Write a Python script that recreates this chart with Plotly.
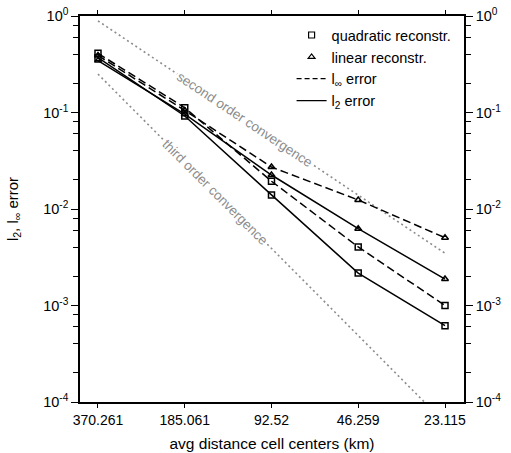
import numpy as np
import plotly.graph_objects as go

# ---- data ----
distance_km = [370.261, 185.061, 92.52, 46.259, 23.115]
tick_labels_x = ["370.261", "185.061", "92.52", "46.259", "23.115"]

quad_linf = [0.41, 0.112, 0.0194, 0.00404, 0.00100]
quad_l2 = [0.37, 0.092, 0.0140, 0.00217, 0.000618]
lin_linf = [0.39, 0.105, 0.0272, 0.0124, 0.00504]
lin_l2 = [0.345, 0.096, 0.0225, 0.00625, 0.00188]

second_order_x = [370.261, 23.115]
second_order_y = [0.89, 0.00348]
third_order_x = [370.261, 23.115]
third_order_y = [0.25, 0.000061]

y_tick_vals = [1e-4, 1e-3, 1e-2, 1e-1, 1]
y_tick_text = ["10<sup>-4</sup>", "10<sup>-3</sup>", "10<sup>-2</sup>", "10<sup>-1</sup>", "10<sup>0</sup>"]
y_minor_vals = [m * 10.0 ** e for e in range(-4, 0) for m in (2, 4, 6, 8)]

FONT = "Liberation Sans, Arial, Helvetica, sans-serif"
GRAY = "#8c8c8c"
DASH = "8px,4px"

fig = go.Figure()

# reference convergence lines
fig.add_trace(go.Scatter(x=second_order_x, y=second_order_y, mode="lines",
                         line=dict(color=GRAY, width=1.6, dash="2px,3px"),
                         showlegend=False, hoverinfo="skip"))
fig.add_trace(go.Scatter(x=third_order_x, y=third_order_y, mode="lines",
                         line=dict(color=GRAY, width=1.6, dash="2px,3px"),
                         showlegend=False, hoverinfo="skip"))

def series(y, sym, dash):
    fig.add_trace(go.Scatter(
        x=distance_km, y=y, mode="lines+markers",
        line=dict(color="black", width=1.5, dash=dash),
        marker=dict(symbol=sym, size=6, color="black", line=dict(width=1.5, color="black")),
        showlegend=False))

series(quad_linf, "square-open", DASH)
series(quad_l2, "square-open", "solid")
series(lin_linf, "triangle-up-open", DASH)
series(lin_l2, "triangle-up-open", "solid")

# legend-only entries
fig.add_trace(go.Scatter(x=[None], y=[None], mode="markers", name="quadratic reconstr.",
                         marker=dict(symbol="square-open", size=6, color="black", line=dict(width=1.2))))
fig.add_trace(go.Scatter(x=[None], y=[None], mode="markers", name="linear reconstr.",
                         marker=dict(symbol="triangle-up-open", size=6, color="black", line=dict(width=1.2))))
fig.add_trace(go.Scatter(x=[None], y=[None], mode="lines", name="l<sub>∞</sub> error",
                         line=dict(color="black", width=1.2, dash="5px,3px")))
fig.add_trace(go.Scatter(x=[None], y=[None], mode="lines", name="l<sub>2</sub> error",
                         line=dict(color="black", width=1.2)))

# invisible trace for right axis
fig.add_trace(go.Scatter(x=[distance_km[0]], y=[0.1], yaxis="y2", mode="markers",
                         marker=dict(opacity=0), showlegend=False, hoverinfo="skip"))

# labels along the reference lines
def along(xs, ys, t):
    lx = np.log10(xs[0]) + t * (np.log10(xs[1]) - np.log10(xs[0]))
    ly = np.log10(ys[0]) + t * (np.log10(ys[1]) - np.log10(ys[0]))
    return lx, ly

ax2, ay2 = along(second_order_x, second_order_y, 0.4225)
ax3, ay3 = along(third_order_x, third_order_y, 0.3385)
fig.add_annotation(x=ax2, y=ay2, xref="x", yref="y", text="second order convergence",
                   showarrow=False, textangle=33.8, bgcolor="white", borderpad=1,
                   font=dict(family=FONT, size=13.5, color=GRAY))
fig.add_annotation(x=ax3, y=ay3, xref="x", yref="y", text="third order convergence",
                   showarrow=False, textangle=45, bgcolor="white", borderpad=1,
                   font=dict(family=FONT, size=13.5, color=GRAY))

x_lo = np.log10(23.115) - 0.219 * np.log10(2)
x_hi = np.log10(370.261) + 0.2075 * np.log10(2)

yaxis_common = dict(
    type="log", range=[-4, 0], tickmode="array", tickvals=y_tick_vals, ticktext=y_tick_text,
    ticks="outside", ticklen=7, tickwidth=1.3, tickcolor="black", automargin=False,
    ticklabeloverflow="allow",
    showline=True, linecolor="black", linewidth=1.5, showgrid=False, zeroline=False,
    tickfont=dict(family=FONT, size=14.5, color="black"),
    minor=dict(tickmode="array", tickvals=y_minor_vals, ticks="outside", ticklen=5,
               tickwidth=1.2, tickcolor="black", showgrid=False),
)

fig.update_layout(
    width=511, height=453,
    margin=dict(l=80, r=47, t=16, b=51, autoexpand=False),
    paper_bgcolor="white", plot_bgcolor="white",
    font=dict(family=FONT, color="black"),
    xaxis=dict(type="log", range=[x_hi, x_lo], tickmode="array", tickvals=distance_km,
               ticktext=tick_labels_x, ticks="outside", ticklen=4, tickwidth=1.3,
               tickcolor="black", showline=True, linecolor="black", linewidth=1.5,
               mirror="ticks", showgrid=False, zeroline=False, automargin=False,
               tickfont=dict(family=FONT, size=14, color="black"),
               title=dict(text="avg distance cell centers (km)", standoff=12,
                          font=dict(family=FONT, size=15.5, color="black"))),
    yaxis=dict(**yaxis_common,
               title=dict(text="l<sub>2</sub>, l<sub>∞</sub> error", standoff=21,
                          font=dict(family=FONT, size=15, color="black"))),
    yaxis2=dict(**yaxis_common, overlaying="y", side="right"),
    legend=dict(x=0.551, y=0.992, xanchor="left", yanchor="top", bgcolor="rgba(0,0,0,0)",
                font=dict(family=FONT, size=14.5, color="black"), tracegroupgap=0,
                itemwidth=30),
    showlegend=True,
    hovermode=False,
)

# remove the browser's default 8px body margin so the figure fills the window exactly
fig.write_html("out.html", config={"displayModeBar": False},
               post_script="document.body.style.margin='0px';")
